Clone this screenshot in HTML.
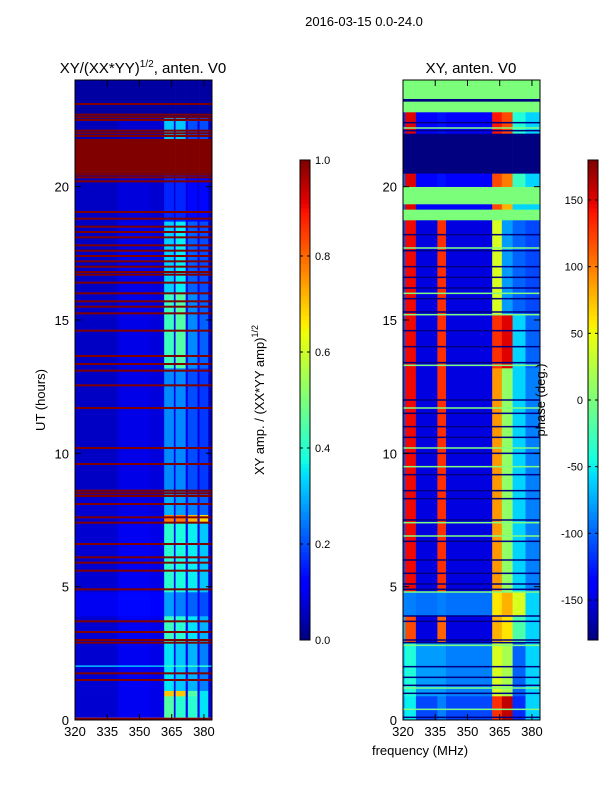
<!DOCTYPE html>
<html><head><meta charset="utf-8"><style>
body{margin:0;background:#fff;}
svg text{font-family:"Liberation Sans",sans-serif;fill:#000;}
</style></head><body>
<svg id="fig" width="600" height="800" viewBox="0 0 600 800" xmlns="http://www.w3.org/2000/svg">
<rect width="600" height="800" fill="#fff"/>
<text x="364" y="26" font-size="13" text-anchor="middle">2016-03-15 0.0-24.0</text>
<text x="143" y="73" font-size="15" text-anchor="middle">XY/(XX*YY)<tspan font-size="10" dy="-6">1/2</tspan><tspan dy="6">, anten. V0</tspan></text>
<text x="471" y="73" font-size="15" text-anchor="middle">XY, anten. V0</text>
<text transform="translate(45,400) rotate(-90)" font-size="13" text-anchor="middle">UT (hours)</text>
<text x="420" y="755" font-size="13" text-anchor="middle">frequency (MHz)</text>
<text transform="translate(264,400) rotate(-90)" font-size="13" text-anchor="middle">XY amp. / (XX*YY amp)<tspan font-size="9" dy="-6">1/2</tspan></text>
<g id="left"></g>
<g id="right"></g>
<g id="cb1"></g>
<g id="cb2"></g>
<text transform="translate(545,400) rotate(-90)" font-size="13" text-anchor="middle">phase (deg.)</text>
</svg>
<script>
// ---- data ----
const freqTicks=[320,335,350,365,380];
const timeTicks=[0,5,10,15,20];
const ampBands=[320,340,355,361.5,366,366.8,371.5,372.5,377,378,382,383.75];
const ampSegments=[
[0.1,0.9,[0.07,0.1,0.09,0.45,0.1,0.4,0.1,0.4,0.1,0.35,0.07]],
[0.9,1.1,[0.07,0.1,0.09,0.7,0.1,0.7,0.1,0.45,0.1,0.35,0.07]],
[1.1,2.0,[0.07,0.1,0.09,0.35,0.1,0.32,0.1,0.3,0.1,0.25,0.07]],
[2.0,2.06,[0.3,0.3,0.3,0.4,0.3,0.4,0.3,0.4,0.3,0.4,0.3]],
[2.06,2.9,[0.07,0.1,0.09,0.35,0.1,0.32,0.1,0.3,0.1,0.25,0.07]],
[2.9,3.9,[0.07,0.1,0.09,0.42,0.1,0.4,0.1,0.35,0.1,0.3,0.07]],
[3.9,4.8,[0.1,0.13,0.12,0.28,0.13,0.25,0.13,0.22,0.13,0.2,0.1]],
[4.8,7.4,[0.07,0.1,0.09,0.4,0.1,0.38,0.1,0.36,0.1,0.32,0.07]],
[7.4,7.7,[0.07,0.1,0.09,0.78,0.12,0.78,0.12,0.72,0.12,0.68,0.07]],
[7.7,8.5,[0.07,0.09,0.08,0.3,0.1,0.28,0.1,0.25,0.1,0.22,0.07]],
[8.5,13.2,[0.06,0.09,0.08,0.26,0.09,0.26,0.09,0.2,0.09,0.18,0.06]],
[13.2,16.0,[0.06,0.09,0.08,0.42,0.1,0.45,0.1,0.26,0.1,0.22,0.06]],
[16.0,18.7,[0.06,0.09,0.08,0.33,0.1,0.36,0.1,0.22,0.1,0.2,0.06]],
[18.7,20.5,[0.06,0.08,0.07,0.16,0.08,0.16,0.08,0.13,0.08,0.13,0.06]],
[20.5,21.8,[1,1,1,1,1,1,1,1,1,1,1]],
[21.8,22.6,[0.05,0.07,0.07,0.32,0.08,0.32,0.08,0.2,0.08,0.2,0.05]],
[22.6,24,[0.03,0.03,0.03,0.03,0.03,0.03,0.03,0.03,0.03,0.03,0.03]]
];
const ampFlagHours=[0.05,1.5,1.75,2.9,3.0,3.3,3.7,4.9,5.6,5.9,6.1,6.6,7.4,7.6,8.1,8.4,8.5,8.6,9.6,10.2,11.7,12.55,13.1,13.35,13.65,14.6,15.25,15.5,15.7,16.0,16.4,16.7,16.8,17.0,17.2,17.4,17.6,17.8,18.1,18.3,18.5,18.8,19.05,20.2,20.35,20.45,21.9,22.0,22.1,22.5,22.6,22.7,23.1];
const phaseBands=[320,321,326,336,340,361.5,366,371,377,383.75];
const phaseSegments=[
[0,0.9,[-70,-50,-110,-90,-110,130,160,-120,-60]],
[0.9,2.9,[-60,-40,-80,-80,-90,40,20,-100,-60]],
[2.9,3.9,[-70,120,-150,110,-150,80,60,-20,-60]],
[3.9,4.8,[-90,-90,-95,-90,-95,60,80,40,-60]],
[4.8,13.2,[-110,145,-150,130,-150,90,10,-60,-90]],
[13.2,15.2,[-110,145,-150,130,-150,130,150,-60,-100]],
[15.2,18.75,[-110,145,-150,130,-150,40,-80,-100,-110]],
[18.75,19.15,[0,0,0,0,0,0,0,0,0]],
[19.15,19.35,[-100,150,-140,-140,-140,120,80,-60,-60]],
[19.35,20.0,[0,0,0,0,0,0,0,0,0]],
[20.0,20.5,[-100,150,-140,-130,-140,120,100,-30,-60]],
[20.5,22.0,[-180,-180,-180,-180,-180,-180,-180,-180,-180]],
[22.0,22.8,[-120,150,-140,-130,-140,140,120,-40,-60]],
[22.8,23.2,[0,0,0,0,0,0,0,0,0]],
[23.2,23.3,[-180,-180,-180,-180,-180,-180,-180,-180,-180]],
[23.3,24,[0,0,0,0,0,0,0,0,0]]
];
const phaseNavyHours=[0.1,1.0,1.3,1.6,2.0,2.9,3.0,3.7,3.9,4.9,5.1,5.5,6.0,6.7,7.5,8.3,8.6,9.2,10.0,10.6,11.0,11.5,12.0,13.4,14.0,14.6,15.3,15.8,16.2,16.6,17.0,17.6,18.2,22.1,22.4];
const phaseGreenHours=[0.4,1.2,2.8,4.8,6.9,7.4,9.5,10.2,11.7,13.3,15.2,16.0,17.7,22.2];
const ampTicks=[0,0.2,0.4,0.6,0.8,1.0];
const phaseTicks=[-150,-100,-50,0,50,100,150];

// ---- helpers ----
const NS="http://www.w3.org/2000/svg";
function jet(v){v=Math.max(0,Math.min(1,v));
 const f=(pts)=>{for(let i=1;i<pts.length;i++){if(v<=pts[i][0]){const a=pts[i-1],b=pts[i];return a[1]+(b[1]-a[1])*(v-a[0])/(b[0]-a[0]);}}return pts[pts.length-1][1];};
 const r=f([[0,0],[0.35,0],[0.66,1],[0.89,1],[1,0.5]]);
 const g=f([[0,0],[0.125,0],[0.375,1],[0.64,1],[0.91,0],[1,0]]);
 const b=f([[0,0.5],[0.11,1],[0.34,1],[0.65,0],[1,0]]);
 return `rgb(${Math.round(r*255)},${Math.round(g*255)},${Math.round(b*255)})`;}
function mk(tag,attrs,parent){const e=document.createElementNS(NS,tag);for(const k in attrs)e.setAttribute(k,attrs[k]);parent.appendChild(e);return e;}
const Y0=720,Y1=80,X0F=320,X1F=383.75;
const yS=h=>Y0+(Y1-Y0)*h/24;
function panel(gid,left,bands,segs,norm){
 const g=document.getElementById(gid);
 const xS=f=>left+(f-X0F)/(X1F-X0F)*137;
 for(const s of segs){for(let i=0;i<s[2].length;i++){
  const r=mk('rect',{x:xS(bands[i]),y:yS(s[1]),width:xS(bands[i+1])-xS(bands[i])+0.3,height:yS(s[0])-yS(s[1])+0.3,fill:jet(norm(s[2][i]))},g);
  
  
 }}
 return {g,xS};
}
function lines(p,hours,color,th){for(const h of hours){
 const r=mk('rect',{x:p.xS(X0F),y:yS(h)-th/2,width:137,height:th,fill:color},p.g);
 
 }}
function axes(p,left){
 mk('rect',{x:left,y:80,width:137,height:640,fill:'none',stroke:'#000','stroke-width':1},p.g);
 for(const t of freqTicks){const x=p.xS(t);
  mk('line',{x1:x,y1:720,x2:x,y2:714,stroke:'#000'},p.g);mk('line',{x1:x,y1:80,x2:x,y2:86,stroke:'#000'},p.g);
  const tx=mk('text',{x:x,y:736,'font-size':13,'text-anchor':'middle'},p.g);tx.textContent=t;
  
  }
 for(const t of timeTicks){const y=yS(t);
  mk('line',{x1:left,y1:y,x2:left+6,y2:y,stroke:'#000'},p.g);mk('line',{x1:left+137,y1:y,x2:left+131,y2:y,stroke:'#000'},p.g);
  const tx=mk('text',{x:left-6,y:y+5,'font-size':13,'text-anchor':'end'},p.g);tx.textContent=t;
  
  }
}
const pL=panel('left',75,ampBands,ampSegments,v=>v);
lines(pL,ampFlagHours,'#800000',2);
axes(pL,75);
const pR=panel('right',403,phaseBands,phaseSegments,v=>(v+180)/360);
lines(pR,phaseNavyHours,'#000080',1.5);
lines(pR,phaseGreenHours,'#80ff80',1.5);
axes(pR,403);
function cbar(gid,x,lo,hi,ticks,fmt,labelLeft){
 const g=document.getElementById(gid);const n=120;
 for(let i=0;i<n;i++){mk('rect',{x:x,y:640-(i+1)*4,width:10,height:4.3,fill:jet((i+0.5)/n)},g);}
 mk('rect',{x:x,y:160,width:10,height:480,fill:'none',stroke:'#000'},g);
 for(const t of ticks){const y=640-(t-lo)/(hi-lo)*480;
  mk('line',{x1:x,y1:y,x2:x+3,y2:y,stroke:'#000'},g);mk('line',{x1:x+10,y1:y,x2:x+7,y2:y,stroke:'#000'},g);
  const tx=labelLeft?mk('text',{x:x-5,y:y+4,'font-size':11,'text-anchor':'end'},g):mk('text',{x:x+15,y:y+4,'font-size':11},g);
  tx.textContent=fmt?t.toFixed(1):t;
  
  }
}
cbar('cb1',300,0,1,ampTicks,true,false);
cbar('cb2',588,-180,180,phaseTicks,false,true);
</script>
</body></html>
